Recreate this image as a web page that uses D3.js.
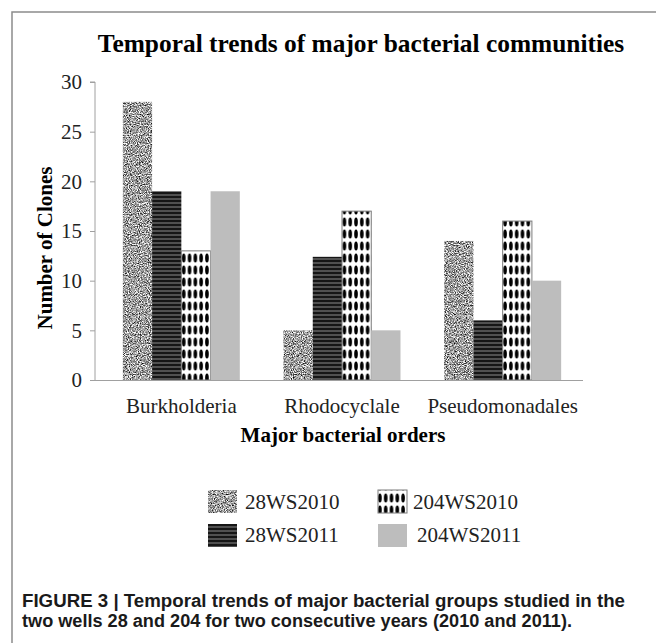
<!DOCTYPE html>
<html><head><meta charset="utf-8">
<script src="https://cdn.jsdelivr.net/npm/d3@7/dist/d3.min.js"></script>
<style>
html,body{margin:0;padding:0;background:#fff;}
svg{display:block;}
</style></head>
<body>
<svg id="c" width="656" height="643"></svg>
<script>
const categories = ["Burkholderia", "Rhodocyclale", "Pseudomonadales"];
const seriesNames = ["28WS2010", "28WS2011", "204WS2010", "204WS2011"];
const s28WS2010 = [28, 5, 14];
const s28WS2011 = [19, 12.4, 6];
const s204WS2010 = [13, 17, 16];
const s204WS2011 = [19, 5, 10];
const yTicks = [0, 5, 10, 15, 20, 25, 30];
const titleText = "Temporal trends of major bacterial communities";
const yTitle = "Number of Clones";
const xTitle = "Major bacterial orders";
const captionLines = [
  "FIGURE 3 | Temporal trends of major bacterial groups studied in the",
  "two wells 28 and 204 for two consecutive years (2010 and 2011)."
];

const seriesValues = [s28WS2010, s28WS2011, s204WS2010, s204WS2011];
const serif = "'Liberation Serif','Times New Roman',serif";

const svg = d3.select("#c");
const defs = svg.append("defs");

// speckle texture
const f = defs.append("filter").attr("id","speckle")
  .attr("x",0).attr("y",0).attr("width",1).attr("height",1)
  .attr("color-interpolation-filters","sRGB");
f.append("feTurbulence").attr("type","fractalNoise").attr("baseFrequency",0.9)
  .attr("numOctaves",3).attr("seed",7).attr("result","n");
f.append("feColorMatrix").attr("in","n").attr("type","matrix")
  .attr("values","1.9 0 0 0 -0.33  1.9 0 0 0 -0.33  1.9 0 0 0 -0.33  0 0 0 0 1")
  .attr("result","g");
f.append("feComposite").attr("in","g").attr("in2","SourceGraphic").attr("operator","in");

// horizontal stripes
const ps = defs.append("pattern").attr("id","stripes").attr("patternUnits","userSpaceOnUse")
  .attr("width",8).attr("height",4);
ps.append("rect").attr("width",8).attr("height",4).attr("fill","#161616");
ps.append("rect").attr("y",2.5).attr("width",8).attr("height",1).attr("fill","#8a8a8a");

// ovals
const po = defs.append("pattern").attr("id","ovals").attr("patternUnits","userSpaceOnUse")
  .attr("width",5.8).attr("height",12);
po.append("rect").attr("width",5.8).attr("height",12).attr("fill","#fff");
po.append("ellipse").attr("cx",2.9).attr("cy",6).attr("rx",1.8).attr("ry",4.6).attr("fill","#000");

const fills = [
  {fill:"#9f9f9f", filter:"url(#speckle)", stroke:"none"},
  {fill:"url(#stripes)", filter:null, stroke:"none"},
  {fill:"url(#ovals)", filter:null, stroke:"#7a7a7a"},
  {fill:"#bdbdbd", filter:null, stroke:"none"}
];

// frame
svg.append("rect").attr("x",12).attr("y",12).attr("width",700).attr("height",700)
  .attr("fill","none").attr("stroke","#8c8c8c").attr("stroke-width",1.5);

// title
svg.append("text").attr("x",361).attr("y",52).attr("text-anchor","middle")
  .attr("font-family",serif).attr("font-weight","bold").attr("font-size",25.4)
  .attr("fill","#000").text(titleText);

const x0 = d3.scaleBand().domain(categories).range([101,583]).paddingInner(0.272).paddingOuter(0.136);
const x1 = d3.scaleBand().domain(seriesNames).range([0, x0.bandwidth()]);
const y = d3.scaleLinear().domain([0,30]).range([380,82]);

// y axis
const yAxis = svg.append("g").attr("transform","translate(95,0)")
  .call(d3.axisLeft(y).tickValues(yTicks).tickSize(5).tickPadding(8));
yAxis.select(".domain").attr("stroke","#a0a0a0").attr("d","M-5,82H0V380");
yAxis.selectAll(".tick line").attr("stroke","#a0a0a0");
yAxis.selectAll(".tick text").attr("font-family",serif).attr("font-size",21).attr("fill","#222");

// bars
const groups = svg.append("g").selectAll("g").data(categories).join("g")
  .attr("transform", d => `translate(${x0(d)},0)`);
seriesNames.forEach((s, si) => {
  groups.append("rect")
    .attr("x", x1(s))
    .attr("y", (d,i) => y(seriesValues[si][i]))
    .attr("width", x1.bandwidth())
    .attr("height", (d,i) => y(0) - y(seriesValues[si][i]))
    .attr("fill", fills[si].fill)
    .attr("filter", fills[si].filter)
    .attr("stroke", fills[si].stroke)
    .attr("stroke-width", 1);
});

// x axis line
svg.append("line").attr("x1",95).attr("x2",583).attr("y1",380.5).attr("y2",380.5)
  .attr("stroke","#a0a0a0").attr("stroke-width",1.2);

// category labels
svg.append("g").selectAll("text").data(categories).join("text")
  .attr("x", d => x0(d) + x0.bandwidth()/2)
  .attr("y", 413).attr("text-anchor","middle")
  .attr("font-family",serif).attr("font-size",21).attr("fill","#222").text(d => d);

// axis titles
svg.append("text").attr("x",343).attr("y",442).attr("text-anchor","middle")
  .attr("font-family",serif).attr("font-weight","bold").attr("font-size",21).text(xTitle);
svg.append("text").attr("transform","translate(52,248) rotate(-90)").attr("text-anchor","middle")
  .attr("font-family",serif).attr("font-weight","bold").attr("font-size",21).text(yTitle);

// legend
const legendPos = [
  {sx:208, sy:490, tx:245, ty:509},
  {sx:208, sy:524, tx:245, ty:542},
  {sx:378, sy:490, tx:413, ty:509},
  {sx:378, sy:524, tx:417, ty:542}
];
const lg = svg.append("g");
seriesNames.forEach((s, si) => {
  const p = legendPos[si];
  lg.append("rect").attr("x",p.sx).attr("y",p.sy).attr("width",29).attr("height",23)
    .attr("fill", fills[si].fill).attr("filter", fills[si].filter)
    .attr("stroke", fills[si].stroke);
  lg.append("text").attr("x",p.tx).attr("y",p.ty)
    .attr("font-family",serif).attr("font-size",21).attr("fill","#222").text(s);
});

// caption
const capW = [603, 550];
captionLines.forEach((t, i) => {
  svg.append("text").attr("x",22).attr("y", 607 + i*20)
    .attr("font-family","'Liberation Sans Narrow','Arial Narrow','Liberation Sans',Arial,sans-serif")
    .attr("font-weight","bold").attr("font-size",18).attr("fill","#1a1a1a")
    .attr("textLength", capW[i]).attr("lengthAdjust","spacingAndGlyphs")
    .text(t);
});
</script>
</body></html>
